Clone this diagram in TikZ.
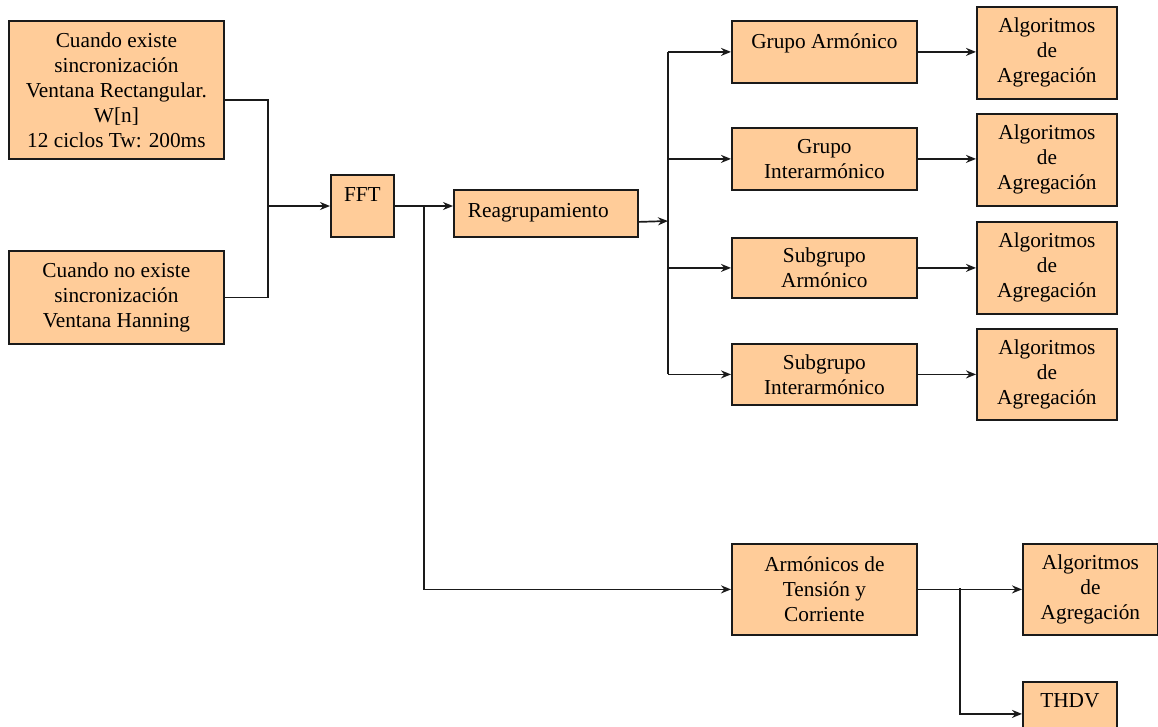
\documentclass[tikz,border=0pt]{standalone}
\usepackage{fontspec}
\setmainfont{LiberationSerif}[Extension=.ttf,UprightFont=*-Regular,BoldFont=*-Bold]
\usetikzlibrary{arrows.meta}
\definecolor{boxfill}{HTML}{FFCC99}
\definecolor{edge}{HTML}{1A1A1A}
\begin{document}
\begin{tikzpicture}[x=1pt,y=-1pt,
  blk/.style={draw=edge,line width=1.8pt,fill=boxfill,inner sep=0pt,anchor=north west,
    align=center,font=\rmfamily\fontsize{21.3}{25}\selectfont},
  conn/.style={draw=edge,line width=1.7pt},
  arr/.style={conn,-{Stealth[length=10pt,width=8pt]}}]
\useasboundingbox (0,0) rectangle (1158,726);
\clip (0,0) rectangle (1158,726);
% left inputs
\node[blk,minimum width=215pt,minimum height=138pt] (b1) at (8,20)
  {Cuando existe\\sincronización\\Ventana Rectangular.\\W[n]\\12 ciclos Tw: 200ms};
\node[blk,minimum width=215pt,minimum height=93pt] (b2) at (8,250)
  {Cuando no existe\\sincronización\\Ventana Hanning};
% FFT and regrouping
\node[blk,minimum width=63pt,text height=27pt,text depth=35pt] (fft) at (330,174) {FFT};
\node[blk,text width=156pt,inner xsep=14pt,align=left,text height=28pt,text depth=19pt] (reag) at (453,189) {Reagrupamiento};
% groups
\node[blk,minimum width=185pt,text height=28pt,text depth=34pt] (ga) at (731,20) {Grupo Armónico};
\node[blk,minimum width=185pt,minimum height=62pt] (gi) at (731,127) {Grupo\\Interarmónico};
\node[blk,minimum width=185pt,minimum height=60pt] (sa) at (731,237) {Subgrupo\\Armónico};
\node[blk,minimum width=185pt,minimum height=61pt] (si) at (731,343) {Subgrupo\\Interarmónico};
% aggregation
\node[blk,minimum width=140pt,minimum height=92pt] (a1) at (976,6) {Algoritmos\\de\\Agregación};
\node[blk,minimum width=140pt,minimum height=92pt] (a2) at (976,113) {Algoritmos\\de\\Agregación};
\node[blk,minimum width=140pt,minimum height=92pt] (a3) at (976,221) {Algoritmos\\de\\Agregación};
\node[blk,minimum width=140pt,minimum height=91pt] (a4) at (976,328) {Algoritmos\\de\\Agregación};
% harmonics of voltage and current
\node[blk,minimum width=185pt,minimum height=91pt] (atc) at (731,543) {Armónicos de\\Tensión y\\Corriente};
\node[blk,minimum width=135pt,minimum height=91pt] (a5) at (1022,543) {Algoritmos\\de\\Agregación};
\node[blk,minimum width=94pt,text height=26pt,text depth=38pt] (thdv) at (1022,681) {THDV};
% junctions
\coordinate (b1o) at ([yshift=60pt]b1.south east);
\coordinate (m1) at (268,206);
\coordinate (m2) at (424,206);
\coordinate (ro) at ([yshift=-8.5pt]reag.east);
\coordinate (m3) at (668,221);
\coordinate (m4) at (960,588);
% connectors
\draw[conn] (b1o) -| (m1) |- (b2.east);
\draw[arr] (m1) -- (m1 -| fft.west);
\draw[arr] (m1 -| fft.east) -- (m1 -| reag.west);
\draw[arr] (m2) |- (atc.west);
\draw[arr] (ro) -- (m3);
\draw[conn] (m3 |- ga.west) -- (m3 |- si.west);
\draw[arr] (m3 |- ga.west) -- (ga.west);
\draw[arr] (m3 |- gi.west) -- (gi.west);
\draw[arr] (m3 |- sa.west) -- (sa.west);
\draw[arr] (m3 |- si.west) -- (si.west);
\draw[arr] (ga.east) -- (ga.east -| a1.west);
\draw[arr] (gi.east) -- (gi.east -| a2.west);
\draw[arr] (sa.east) -- (sa.east -| a3.west);
\draw[arr] (si.east) -- (si.east -| a4.west);
\draw[arr] (atc.east) -- (atc.east -| a5.west);
\draw[arr] (m4) |- (thdv.west);
\end{tikzpicture}
\end{document}
